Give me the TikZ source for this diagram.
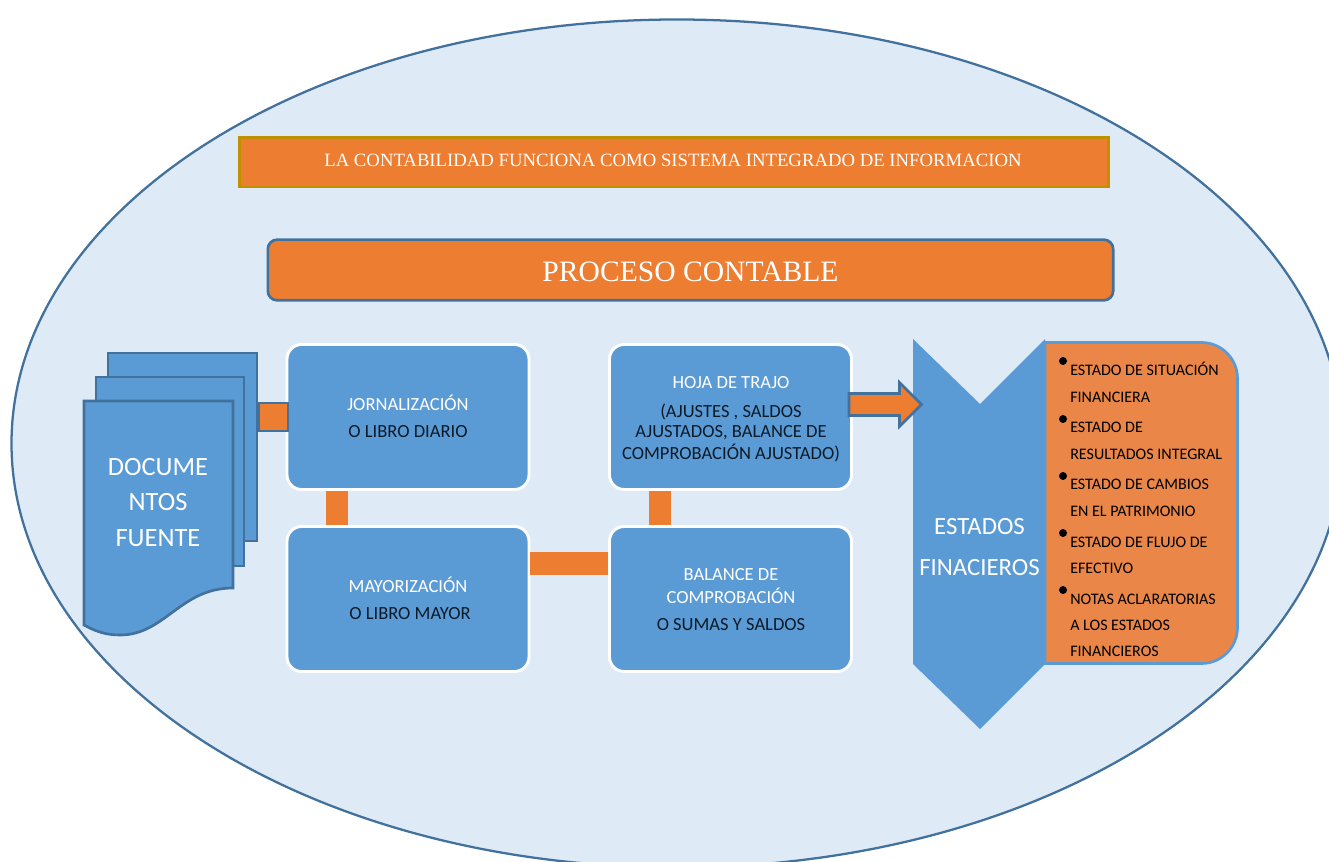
\documentclass[tikz,border=0pt]{standalone}
\usepackage{fontspec}
\usetikzlibrary{calc}
\setmainfont{Liberation Serif}
\setsansfont{Carlito}
\definecolor{ellfill}{HTML}{DEEAF6}
\definecolor{ellline}{HTML}{41719C}
\definecolor{boxblue}{HTML}{5B9BD5}
\definecolor{orangeA}{HTML}{ED7D31}
\definecolor{orangeB}{HTML}{EA8748}
\definecolor{goldline}{HTML}{BF9000}
\definecolor{darktxt}{HTML}{0B1A28}
\tikzset{
  procbox/.style={rectangle,rounded corners=11pt,draw=white,line width=2.2pt,fill=boxblue,
    minimum width=181.5pt,minimum height=108.75pt,inner sep=0pt},
  wtxt/.style={font=\sffamily\fontsize{13.9}{16}\selectfont,text=white,inner sep=0pt,yshift=-0.75pt},
  ktxt/.style={font=\sffamily\fontsize{13.9}{16}\selectfont,text=darktxt,inner sep=0pt,yshift=-0.75pt},
  bigtxt/.style={font=\sffamily\fontsize{19.8}{23}\selectfont,text=white,inner sep=0pt},
  esttxt/.style={font=\sffamily\fontsize{18.6}{22}\selectfont,text=white,inner sep=0pt,yshift=-0.75pt},
  listtxt/.style={font=\sffamily\fontsize{12.05}{14}\selectfont,text=black,inner sep=0pt,anchor=base west,yshift=-0.75pt},
  dotmark/.style={circle,fill=black,minimum size=6pt,inner sep=0pt},
  docsheet/.style={draw=ellline,fill=boxblue,line width=2pt,line join=miter},
  linkbar/.style={orangeA,line width=16.5pt},
}
\begin{document}
\begin{tikzpicture}[x=0.75pt,y=-0.75pt]
\clip (0,0) rectangle (1329,862);
\fill[white] (0,0) rectangle (1329,862);
\draw[draw=ellline,fill=ellfill,line width=1.7pt] (677,443.5) ellipse [x radius=665.5,y radius=424];

% titles
\node[rectangle,draw=goldline,fill=orangeA,line width=2pt,minimum width=652pt,minimum height=37pt,inner sep=0pt] (titulo) at (674,162.5) {};
\node[text=white,font=\rmfamily\fontsize{14.05}{16}\selectfont,inner sep=0pt] (titulotxt) at (673,160) {LA CONTABILIDAD FUNCIONA COMO SISTEMA INTEGRADO DE INFORMACION};
\node[rectangle,rounded corners=7pt,draw=ellline,fill=orangeA,line width=2pt,minimum width=634pt,minimum height=45.5pt,inner sep=0pt] (proceso) at (690.5,270) {};
\node[text=white,font=\rmfamily\fontsize{22.2}{26}\selectfont,inner sep=0pt] (procesotxt) at (690.5,272) {PROCESO CONTABLE};

% document stack
\draw[docsheet] (108,353) -- (257,353) -- (257,541) -- (108,541) -- cycle;
\draw[docsheet] (96,377) -- (244,377) -- (244,566) -- (96,566) -- cycle;
\draw[docsheet] (84,401) -- (233,401) -- (233,588)
  .. controls (180,588) and (165,635) .. (120,635)
  .. controls (105,635) and (95,631) .. (84,625) -- cycle;
\coordinate (docR) at (257,417);
\node[bigtxt] (doc1) at (158,467) {DOCUME};
\node[bigtxt] (doc2) at (158,502) {NTOS};
\node[bigtxt] (doc3) at (158,538) {FUENTE};

% process boxes
\node[procbox] (jor) at (408,417) {};
\node[procbox] (may) at (408,599) {};
\node[procbox] (hoja) at (730.5,417) {};
\node[procbox] (bal) at (730.5,599) {};

\node[wtxt] at (408,402) {JORNALIZACIÓN};
\node[ktxt] at (408,431) {O LIBRO DIARIO};
\node[wtxt] at (408,584) {MAYORIZACIÓN};
\node[ktxt] at (410,613) {O LIBRO MAYOR};
\node[wtxt] at (731,382) {HOJA DE TRAJO};
\node[ktxt] at (731,411) {(AJUSTES , SALDOS};
\node[ktxt] at (731,432) {AJUSTADOS, BALANCE DE};
\node[ktxt] at (731,452) {COMPROBACIÓN AJUSTADO)};
\node[wtxt] at (731,574) {BALANCE DE};
\node[wtxt] at (731,595) {COMPROBACIÓN};
\node[ktxt] at (731,624) {O SUMAS Y SALDOS};

% connectors
\draw[ellline,line width=22pt] (docR) -- ($(jor.west)+(3,0)$);
\draw[orangeA,line width=19.5pt] (docR) ++(2.5,0) -- ($(jor.west)+(1,0)$);
\draw[linkbar] (337,0 |- jor.south) -- (337,0 |- may.north);
\draw[linkbar] (660,0 |- bal.north) -- (660,0 |- hoja.south);
\draw[orangeA,line width=17.5pt] (0,563.5 -| may.east) -- (0,563.5 -| bal.west);

% estados financieros
\draw[fill=orangeB,draw=boxblue,line width=2pt]
  (1045,342.5) [rounded corners=27pt] -- (1237.5,342.5) -- (1237.5,663.5) [rounded corners=0pt] -- (1045,663.5) -- cycle;
\fill[boxblue] (913,339) -- (980,404) -- (1045,339) -- (1045,664) -- (980,729) -- (913,664) -- cycle;
\node[esttxt] (est1) at (979.5,526) {ESTADOS};
\node[esttxt] (est2) at (979.5,567) {FINACIEROS};

% arrow
\draw[draw=ellline,fill=orangeA,line width=2pt,line join=miter]
  (hoja.east) ++(-4,-23.5) -- ++(50.5,0) -- ++(0,-11) -- ++(22,22) -- ++(-22,22) -- ++(0,-11) -- ++(-50.5,0) -- cycle;

% list
\foreach \yy/\nn in {361/a,419/b,476/c,533/d,590/e}
  \node[dotmark] (dot\nn) at (1063,\yy) {};
\node[listtxt] at (1070,375) {ESTADO DE SITUACIÓN};
\node[listtxt] at (1070,402) {FINANCIERA};
\node[listtxt] at (1070,432) {ESTADO DE};
\node[listtxt] at (1070,459) {RESULTADOS INTEGRAL};
\node[listtxt] at (1070,489) {ESTADO DE CAMBIOS};
\node[listtxt] at (1070,516) {EN EL PATRIMONIO};
\node[listtxt] at (1070,547) {ESTADO DE FLUJO DE};
\node[listtxt] at (1070,573) {EFECTIVO};
\node[listtxt] at (1070,604) {NOTAS ACLARATORIAS};
\node[listtxt] at (1070,630) {A LOS ESTADOS};
\node[listtxt] at (1070,656) {FINANCIEROS};
\end{tikzpicture}
\end{document}
